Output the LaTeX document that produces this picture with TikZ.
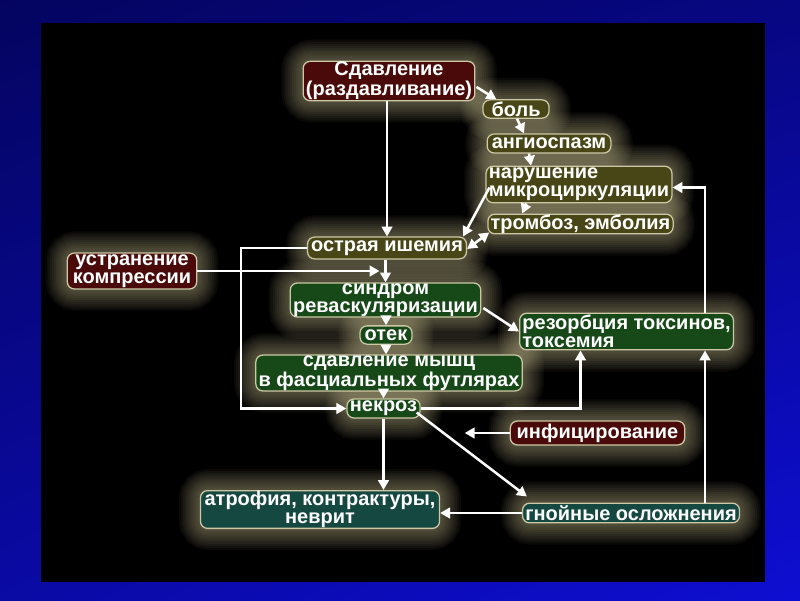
\documentclass[tikz,border=0pt]{standalone}
\usepackage{fontspec}
\setmainfont{Liberation Sans}
\usetikzlibrary{arrows.meta,calc,positioning,shadings}
\definecolor{slidenavy}{RGB}{4,4,96}
\definecolor{slideblue}{RGB}{14,14,210}
\definecolor{boxred}{RGB}{74,10,10}
\definecolor{boxolive}{RGB}{72,70,22}
\definecolor{boxgreen}{RGB}{22,72,24}
\definecolor{boxteal}{RGB}{22,72,66}
\definecolor{rimbeige}{RGB}{205,200,165}
\definecolor{halocream}{RGB}{235,225,170}
\pgfdeclarelayer{backdrop}
\pgfdeclarelayer{halo}
\pgfsetlayers{backdrop,halo,main}
\tikzset{
  box/.style={draw=rimbeige, line width=0.9pt, rounded corners=5pt,
    text=white, font=\bfseries\fontsize{14.2}{13}\selectfont,
    align=center, inner xsep=2pt, inner ysep=0.3pt},
  redbox/.style={box, fill=boxred},
  olivebox/.style={box, fill=boxolive},
  greenbox/.style={box, fill=boxgreen},
  tealbox/.style={box, fill=boxteal},
  arrow/.style={white, line width=1.8pt, -{Triangle[length=7pt,width=7.5pt]}},
  dblarrow/.style={arrow, {Triangle[length=7pt,width=7.5pt]}-{Triangle[length=7pt,width=7.5pt]}}
}

\begin{document}
\begin{tikzpicture}[x=0.025cm,y=-0.025cm]
  % Slide background
  \begin{pgfonlayer}{backdrop}
    \shade[upper left=slidenavy, upper right=slidenavy!70!slideblue,
      lower left=slidenavy!40!slideblue, lower right=slideblue]
      (0,0) rectangle (800,600);
    \fill[black] (41,23) rectangle (765,582);
  \end{pgfonlayer}

  % Main chain
  \node[redbox, minimum width=120pt, minimum height=28pt] (sdav) at (389,81)
    {Сдавление\\(раздавливание)};
  \node[olivebox, minimum width=47pt, minimum height=13pt] (bol) at (516,109) {боль};
  \node[olivebox, minimum width=88pt, minimum height=13.5pt] (angio) at (549,143.5) {ангиоспазм};
  \node[olivebox, align=left, minimum width=129pt, minimum height=26pt] (narush) at (579,184.5)
    {нарушение\\микроциркуляции};
  \node[olivebox, minimum width=131pt, minimum height=14pt] (tromb) at (580.5,224) {тромбоз, эмболия};
  \node[olivebox, minimum width=113pt, minimum height=15.5pt] (ishem) at (387,248) {острая ишемия};
  \node[redbox, minimum width=92pt, minimum height=25.5pt] (ustr) at (132,271)
    {устранение\\компрессии};
  \node[greenbox, minimum width=133pt, minimum height=22.7pt] (syndr) at (385.5,300)
    {синдром\\реваскуляризации};
  \node[greenbox, minimum width=37pt, minimum height=13pt] (otek) at (386,335) {отек};
  \node[greenbox, minimum width=186pt, minimum height=25.5pt] (fasc) at (389,373)
    {сдавление мышц\\в фасциальных футлярах};
  \node[greenbox, minimum width=52pt, minimum height=13.5pt] (nekroz) at (383.5,408.5) {некроз};

  % Outcomes
  \node[greenbox, align=left, minimum width=144pt, minimum height=26pt] (rezorb) at (626.5,331.5)
    {резорбция токсинов,\\токсемия};
  \node[redbox, minimum width=124pt, minimum height=17pt] (infic) at (597.5,433) {инфицирование};
  \node[tealbox, minimum width=170pt, minimum height=25pt] (atrof) at (320,509.5)
    {атрофия, контрактуры,\\неврит};
  \node[tealbox, minimum width=150pt, minimum height=14pt] (gnoin) at (631,513) {гнойные осложнения};

  % Glow round the boxes
  \begin{pgfonlayer}{halo}
    \foreach \n in {sdav,bol,angio,narush,tromb,ishem,ustr,syndr,otek,fasc,nekroz,rezorb,infic,atrof,gnoin}{
      \foreach \w in {30,27,...,3}{
        \draw[halocream, line width=\w pt, opacity=0.045, rounded corners=6pt]
          (\n.north west) rectangle (\n.south east);
      }
    }
  \end{pgfonlayer}

  % Connectors
  \coordinate (rail) at (705,400);
  \draw[arrow] (ishem.north |- sdav.south) -- (ishem.north);
  \draw[arrow] ($(sdav.east)+(1,6)$) -- ($(bol.north west)+(14,0)$);
  \draw[arrow] ($(bol.south)+(1,0)$) -- ($(angio.north)+(-25,0)$);
  \draw[arrow] ($(angio.south)+(-20,0)$) -- ($(narush.north)+(-48,0)$);
  \draw[arrow] ($(narush.south west)+(41,0)$) -- ($(tromb.north west)+(35,0)$);
  \draw[arrow] ($(narush.west)+(4,3)$) -- ($(ishem.north east)+(-4,0)$);
  \draw[dblarrow] ($(tromb.south west)+(2,-2)$) -- ($(ishem.east)+(0,1)$);
  \draw[arrow] (ishem.west) -- ++(-66,0) |- (nekroz.west);
  \draw[arrow] (ustr.east) -- ($(ustr.east -| syndr.north)+(-6,0)$);
  \draw[arrow] (ishem.south -| syndr.north) -- (syndr.north);
  \draw[arrow] (syndr.south -| otek.north) -- (otek.north);
  \draw[arrow] (otek.south) -- (otek.south |- fasc.north);
  \draw[arrow] (fasc.south -| nekroz.north) -- (nekroz.north);
  \draw[arrow] ($(syndr.east)+(2,8)$) -- (rezorb.west);
  \draw[arrow] (nekroz.east) -| ($(rezorb.south)+(-46,0)$);
  \draw[arrow] ($(nekroz.east)+(-4,4)$) -- ($(gnoin.north west)+(5,-6)$);
  \draw[arrow] (infic.west) -- ++(-45,0);
  \draw[arrow] (nekroz.south) -- (nekroz.south |- atrof.north);
  \draw[arrow] (gnoin.west) -- (gnoin.west -| atrof.east);
  \draw[arrow] (gnoin.north -| rail) -- (rezorb.south -| rail);
  \draw[arrow] (rezorb.north -| rail) |- ($(narush.east)+(0,3)$);
\end{tikzpicture}
\end{document}
